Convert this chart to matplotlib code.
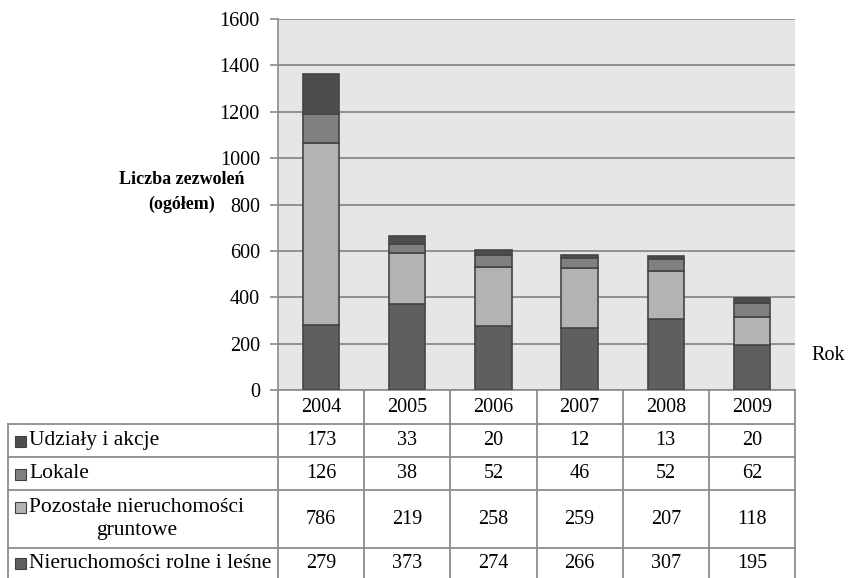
import matplotlib.pyplot as plt
from matplotlib.lines import Line2D
from matplotlib.patches import Rectangle

# data
years = ['2004', '2005', '2006', '2007', '2008', '2009']
rolne = [279, 373, 274, 266, 307, 195]
pozostale = [786, 219, 258, 259, 207, 118]
lokale = [126, 38, 52, 46, 52, 62]
udzialy = [173, 33, 20, 12, 13, 20]

series = [
    ('Nieruchomości rolne i leśne', rolne, '#5f5f5f'),
    ('Pozostałe nieruchomości\ngruntowe', pozostale, '#b3b3b3'),
    ('Lokale', lokale, '#808080'),
    ('Udziały i akcje', udzialy, '#4d4d4d'),
]
y_ticks = [0, 200, 400, 600, 800, 1000, 1200, 1400, 1600]

plt.rcParams['font.family'] = ['Liberation Serif', 'DejaVu Serif']

W, H = 856, 578
fig = plt.figure(figsize=(W / 100, H / 100), dpi=100)
fig.patch.set_facecolor('white')

def fx(x):
    return x / W

def fy(y):
    return 1 - y / H

x0, x1 = 278, 795
ytop, ybot = 19, 390
ax = fig.add_axes([fx(x0), fy(ybot), fx(x1 - x0), (ybot - ytop) / H])
ax.set_facecolor('#e6e6e6')

pos = list(range(len(years)))
bottom = [0] * len(years)
for name, vals, col in series:
    ax.bar(pos, vals, 0.42, bottom=bottom, color=col, edgecolor='#454545',
           linewidth=1.2, zorder=3)
    bottom = [b + v for b, v in zip(bottom, vals)]

ax.set_xlim(-0.5, len(years) - 0.5)
ax.set_ylim(0, 1600)
ax.set_yticks(y_ticks)
ax.set_yticklabels([str(t) for t in y_ticks], fontsize=14.5)
ax.set_xticks([])
ax.yaxis.grid(True, color='#8a8a8a', linewidth=1.3, zorder=0)
ax.set_axisbelow(True)
ax.tick_params(axis='y', length=6, width=1.2, color='#8a8a8a', pad=7)
for s in ['top', 'right']:
    ax.spines[s].set_visible(False)
ax.spines['left'].set_color('#8a8a8a')
ax.spines['left'].set_linewidth(1.2)
ax.spines['bottom'].set_color('#8a8a8a')
ax.spines['bottom'].set_linewidth(1.2)

# y axis title, two lines drawn separately
fig.text(fx(182), fy(179), 'Liczba zezwoleń', ha='center', va='center',
         fontsize=13, fontweight='bold')
fig.text(fx(182), fy(204), '(ogółem)', ha='center', va='center',
         fontsize=13, fontweight='bold')
fig.text(fx(828), fy(356), 'Rok', ha='center', va='center', fontsize=14.5)

# data table
lc = '#8c8c8c'
rows_y = [390, 424, 457, 490, 548, 590]
tx0 = 8
cw = (x1 - x0) / len(years)

def hline(y, xa, xb):
    fig.add_artist(Line2D([fx(xa), fx(xb)], [fy(y), fy(y)], color=lc, lw=1.3))

def vline(x, ya, yb):
    fig.add_artist(Line2D([fx(x), fx(x)], [fy(ya), fy(yb)], color=lc, lw=1.3))

for y in rows_y[1:-1]:
    hline(y, tx0, x1)
vline(tx0, rows_y[1], rows_y[-1])
for i in range(len(years) + 1):
    vline(x0 + i * cw, rows_y[0], rows_y[-1])

for i, yr in enumerate(years):
    fig.text(fx(x0 + (i + 0.5) * cw), fy((rows_y[0] + rows_y[1]) / 2), yr,
             ha='center', va='center', fontsize=14.5)

table_rows = list(reversed(series))
for r, (name, vals, col) in enumerate(table_rows):
    ya, yb = rows_y[r + 1], min(rows_y[r + 2], 578)
    yc = (ya + yb) / 2
    if r == len(table_rows) - 1:
        yc = 563
    sq_y = yc if '\n' not in name else yc - 12
    fig.add_artist(Rectangle((fx(15), fy(sq_y + 6)), 11 / W, 11 / H, facecolor=col,
                             edgecolor='#404040', linewidth=0.8))
    fig.text(fx(29), fy(yc), name, ha='left', va='center', fontsize=15.5,
             multialignment='center', linespacing=1.3)
    for i, v in enumerate(vals):
        fig.text(fx(x0 + (i + 0.5) * cw), fy(yc), str(v), ha='center',
                 va='center', fontsize=14.5)

fig.savefig('out.png', dpi=100)
